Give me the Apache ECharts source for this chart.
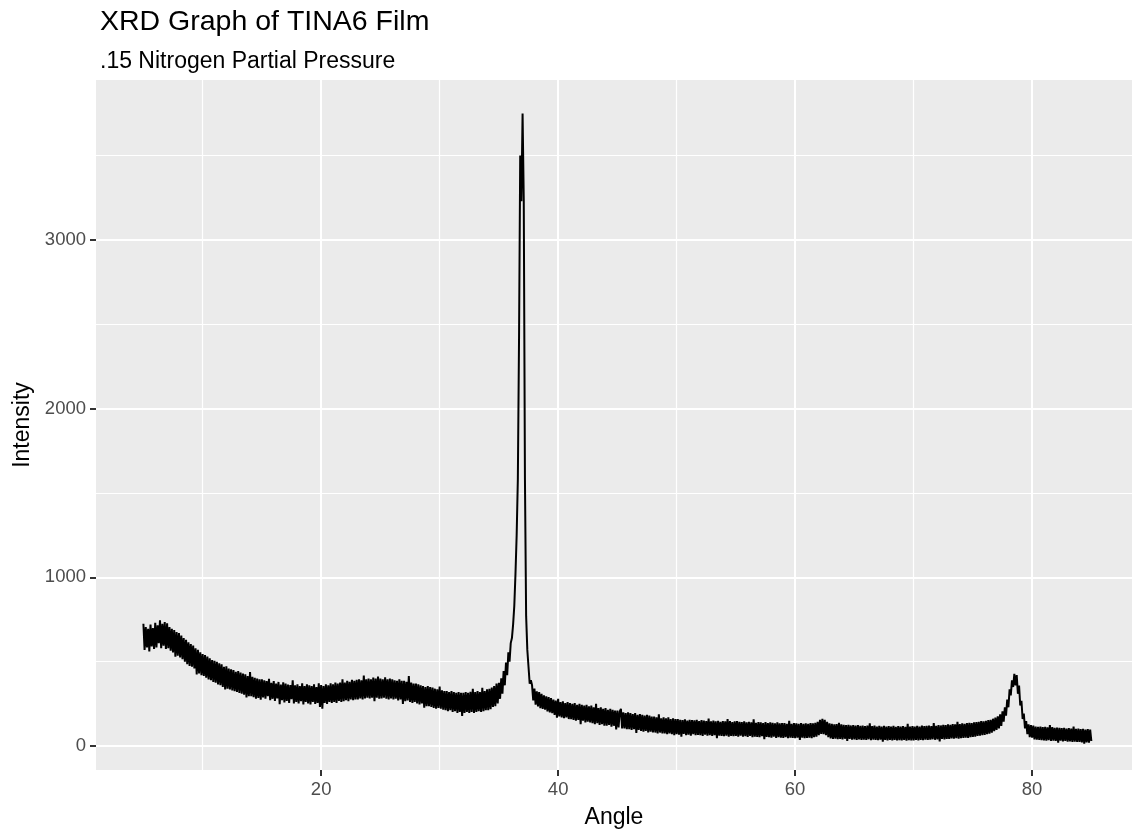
<!DOCTYPE html>
<html>
<head>
<meta charset="utf-8">
<title>XRD Graph of TINA6 Film</title>
<script src="https://cdn.jsdelivr.net/npm/echarts@6/dist/echarts.min.js"></script>
<style>
  html, body { margin: 0; padding: 0; background: #fff; }
  #chart { width: 1132px; height: 837px; }
</style>
</head>
<body>
<div id="chart"></div>
<script>
// scan grid (degrees 2-theta)
var angleStart = 5
var angleStep = 0.1

// intensity, one value every 0.1 degree
var intensity05 = [ // 5.0 - 14.9
  725, 570, 705, 585, 695, 560, 720, 590, 700, 575,
  730, 585, 715, 610, 745, 580, 725, 595, 735, 575,
  728, 580, 705, 565, 695, 555, 688, 530, 675, 535,
  670, 525, 655, 515, 640, 500, 630, 485, 615, 475,
  605, 470, 595, 460, 580, 425, 570, 430, 555, 420,
  545, 415, 540, 405, 530, 395, 520, 390, 510, 380,
  505, 375, 500, 365, 490, 360, 485, 350, 470, 335,
  472, 340, 460, 335, 455, 330, 450, 325, 440, 320,
  445, 315, 435, 310, 430, 305, 425, 288, 415, 295,
  438, 295, 410, 290, 405, 280, 400, 285, 395, 275
]
var intensity15 = [ // 15.0 - 24.9
  395, 288, 390, 280, 385, 295, 398, 272, 375, 280,
  385, 268, 370, 282, 380, 248, 365, 272, 378, 258,
  370, 268, 365, 255, 362, 278, 390, 252, 360, 262,
  366, 252, 356, 266, 372, 246, 356, 262, 366, 252,
  360, 246, 356, 262, 366, 250, 350, 256, 372, 232,
  362, 222, 356, 256, 366, 250, 360, 262, 372, 256,
  366, 262, 376, 256, 370, 268, 376, 262, 396, 266,
  376, 272, 386, 266, 380, 276, 392, 272, 386, 276,
  392, 276, 396, 282, 390, 276, 418, 282, 396, 286,
  400, 282, 396, 286, 406, 266, 400, 286, 412, 280
]
var intensity25 = [ // 25.0 - 34.9
  400, 282, 396, 286, 408, 280, 396, 276, 400, 282,
  396, 276, 390, 280, 386, 270, 396, 276, 386, 250,
  386, 266, 380, 270, 415, 262, 376, 256, 370, 262,
  370, 252, 366, 246, 360, 252, 356, 228, 350, 236,
  356, 236, 350, 232, 346, 226, 340, 222, 336, 226,
  352, 222, 330, 216, 326, 212, 326, 206, 320, 212,
  326, 202, 320, 206, 316, 196, 320, 202, 316, 178,
  316, 196, 320, 202, 316, 196, 322, 202, 340, 196,
  320, 202, 326, 206, 320, 202, 345, 206, 326, 212,
  336, 212, 340, 218, 346, 232, 356, 236, 370, 252
]
var intensity35 = [ // 35.0 - 44.9, main peak near 37
  375, 280, 402, 310, 445, 360, 495, 420, 555, 500,
  610, 640, 720, 830, 1020, 1250, 1580, 2410, 3500, 3230,
  3750, 3230, 1580, 770, 570, 470, 370, 390, 360, 270,
  340, 245, 325, 235, 320, 225, 310, 220, 300, 215,
  295, 205, 290, 200, 285, 195, 275, 185, 270, 168,
  280, 175, 260, 170, 265, 165, 255, 170, 260, 160,
  255, 160, 250, 155, 255, 150, 245, 155, 250, 130,
  245, 150, 240, 140, 245, 145, 235, 140, 240, 135,
  230, 130, 250, 135, 225, 125, 230, 130, 220, 120,
  225, 120, 215, 125, 220, 115, 215, 120, 210, 98
]
var intensity45 = [ // 45.0 - 54.9
  210, 110, 205, 220, 105, 200, 105, 195, 100, 200,
  100, 195, 95, 190, 100, 195, 78, 185, 95, 190,
  90, 185, 85, 180, 90, 185, 80, 180, 85, 175,
  80, 175, 80, 170, 75, 188, 80, 165, 75, 170,
  75, 165, 70, 170, 75, 160, 70, 165, 65, 160,
  70, 160, 68, 156, 55, 154, 72, 158, 65, 151,
  68, 156, 62, 154, 70, 152, 64, 156, 66, 148,
  65, 154, 60, 151, 68, 148, 62, 163, 64, 146,
  60, 151, 64, 146, 46, 150, 62, 144, 60, 148,
  58, 146, 62, 160, 56, 148, 60, 142, 58, 146
]
var intensity55 = [ // 55.0 - 64.9, small bump near 62.3
  60, 148, 56, 144, 62, 142, 55, 146, 58, 140,
  54, 144, 60, 141, 52, 158, 56, 138, 54, 142,
  52, 140, 58, 136, 40, 142, 54, 136, 52, 140,
  50, 138, 55, 134, 48, 140, 52, 134, 50, 136,
  48, 136, 52, 132, 46, 150, 50, 131, 48, 136,
  46, 134, 50, 131, 36, 136, 50, 132, 46, 134,
  48, 132, 50, 136, 46, 134, 52, 138, 55, 144,
  65, 156, 72, 161, 70, 156, 65, 144, 52, 134,
  45, 131, 42, 128, 44, 130, 40, 138, 42, 128,
  40, 126, 43, 124, 30, 126, 42, 122, 38, 124
]
var intensity65 = [ // 65.0 - 74.9
  40, 122, 36, 124, 40, 120, 36, 122, 38, 118,
  36, 122, 40, 134, 35, 118, 38, 122, 36, 116,
  35, 120, 38, 116, 26, 120, 37, 116, 34, 118,
  36, 116, 33, 120, 36, 114, 34, 118, 35, 116,
  33, 118, 36, 114, 32, 132, 35, 116, 33, 118,
  34, 116, 36, 120, 33, 116, 37, 122, 35, 118,
  38, 120, 36, 122, 38, 118, 40, 136, 37, 120,
  40, 124, 28, 122, 42, 126, 40, 124, 42, 128,
  42, 126, 45, 130, 43, 128, 46, 144, 44, 130,
  46, 134, 48, 132, 50, 136, 48, 138, 52, 136
]
var intensity75 = [ // 75.0 - 85.0, second peak near 78.5
  54, 140, 56, 142, 60, 144, 62, 148, 64, 146,
  66, 150, 70, 154, 74, 156, 80, 162, 88, 168,
  95, 176, 105, 188, 120, 206, 145, 230, 180, 276,
  230, 336, 300, 390, 350, 428, 360, 420, 310, 358,
  240, 268, 160, 193, 105, 148, 70, 128, 52, 124,
  50, 121, 40, 116, 38, 114, 36, 116, 35, 112,
  34, 114, 32, 111, 35, 124, 30, 112, 32, 108,
  30, 110, 20, 108, 32, 106, 28, 108, 30, 104,
  26, 106, 28, 104, 25, 116, 26, 102, 24, 104,
  25, 101, 22, 102, 14, 98, 22, 100, 20, 98,
  30
]

var angleTicks = [20, 40, 60, 80]
var angleMinorTicks = [10, 30, 50, 70]
var intensityTicks = [0, 1000, 2000, 3000]
var intensityMinorTicks = [500, 1500, 2500, 3500]

var intensity = [].concat(intensity05, intensity15, intensity25, intensity35,
  intensity45, intensity55, intensity65, intensity75)
var scan = intensity.map(function(v, i) {
  return [+(angleStart + i * angleStep).toFixed(1), v]
})

var font = 'Liberation Sans, Arial, Helvetica, sans-serif'
var plain = function(v) { return String(v) }
var chart = echarts.init(document.getElementById('chart'))

chart.setOption({
  animation: false,
  title: [{
    text: 'XRD Graph of TINA6 Film',
    left: 95,
    top: 3,
    textStyle: { fontFamily: font, fontSize: 28.5, fontWeight: 'normal', color: '#000' }
  }, {
    text: '.15 Nitrogen Partial Pressure',
    left: 95,
    top: 45,
    textStyle: { fontFamily: font, fontSize: 23, fontWeight: 'normal', color: '#000' }
  }],
  grid: {
    left: 96,
    top: 80,
    right: 0,
    bottom: 67,
    show: true,
    backgroundColor: '#EBEBEB',
    borderWidth: 0
  },
  xAxis: [{
    type: 'value',
    min: 1,
    max: 88.43,
    position: 'bottom',
    name: 'Angle',
    nameLocation: 'middle',
    nameGap: 36,
    nameTextStyle: { fontFamily: font, fontSize: 23, color: '#000' },
    axisLine: { show: false, onZero: false },
    axisTick: { show: true, length: 6, customValues: angleTicks, lineStyle: { color: '#333', width: 2 } },
    axisLabel: { customValues: angleTicks, formatter: plain, margin: 10, fontFamily: font, fontSize: 18.5, color: '#4D4D4D' },
    splitLine: { show: true, lineStyle: { color: '#fff', width: 2 } }
  }, {
    type: 'value',
    min: 1,
    max: 88.43,
    position: 'top',
    axisLine: { show: false, onZero: false },
    axisTick: { show: false, customValues: angleMinorTicks },
    axisLabel: { show: false },
    splitLine: { show: true, lineStyle: { color: '#fff', width: 1.2 } }
  }],
  yAxis: [{
    type: 'value',
    min: -142,
    max: 3948,
    position: 'left',
    name: 'Intensity',
    nameLocation: 'middle',
    nameGap: 58,
    nameTextStyle: { fontFamily: font, fontSize: 23, color: '#000' },
    axisLine: { show: false, onZero: false },
    axisTick: { show: true, length: 6, customValues: intensityTicks, lineStyle: { color: '#333', width: 2 } },
    axisLabel: { customValues: intensityTicks, formatter: plain, margin: 10, fontFamily: font, fontSize: 18.5, color: '#4D4D4D' },
    splitLine: { show: true, lineStyle: { color: '#fff', width: 2 } }
  }, {
    type: 'value',
    min: -142,
    max: 3948,
    position: 'right',
    axisLine: { show: false, onZero: false },
    axisTick: { show: false, customValues: intensityMinorTicks },
    axisLabel: { show: false },
    splitLine: { show: true, lineStyle: { color: '#fff', width: 1.2 } }
  }],
  series: [{
    type: 'line',
    xAxisIndex: 0,
    yAxisIndex: 0,
    data: scan,
    showSymbol: false,
    symbol: 'none',
    lineStyle: { color: '#000', width: 2 },
    clip: true
  }]
})
</script>
</body>
</html>
